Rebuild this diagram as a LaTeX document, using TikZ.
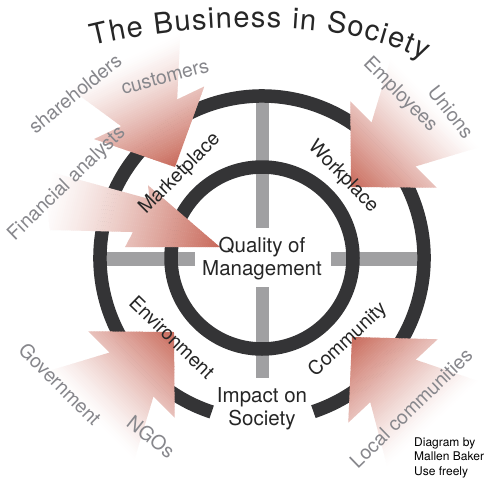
\documentclass[tikz,border=0pt]{standalone}
\usepackage{fontspec}
\setmainfont{TeX Gyre Heros}
\usetikzlibrary{decorations.text,calc}
\definecolor{ringc}{RGB}{52,52,54}
\definecolor{barc}{RGB}{160,160,162}
\definecolor{darktext}{RGB}{38,38,38}
\definecolor{graytext}{RGB}{135,135,140}
\definecolor{ared}{RGB}{200,105,90}
\newcommand{\titlefnt}{\fontsize{29}{33}\selectfont\color{darktext}}
% fading fill along local x: red at x=0, white at x=#1
\newcommand{\fadefill}[1]{%
  \foreach \d in {0,2,...,#1} {%
    \pgfmathsetmacro{\pct}{100*(max(0.0005,1-(\d+1)/#1))^1.25}%
    \fill[ared!\pct] (\d,-90) rectangle (\d+2.4,90);
  }}
\newcommand{\redarrow}[3]{%
  \begin{scope}[shift={(#1,#2)}, rotate=#3]
    \clip (0,0) -- (60,-61) -- (60,-31) -- (118,-62) -- (118,62) -- (60,31) -- (60,61) -- cycle;
    \fadefill{118}
  \end{scope}}
\tikzset{
  ring/.style={draw=ringc, line width=13.5pt},
  bar/.style={fill=barc},
  lbl/.style={text=darktext, font=\fontsize{19.5}{23}\selectfont, inner sep=0pt},
  glbl/.style={text=graytext, font=\fontsize{19.5}{23}\selectfont, inner sep=0pt},
  ctr/.style={text=darktext, font=\fontsize{20.5}{23}\selectfont, inner sep=0pt, anchor=base},
  credit/.style={text=black, font=\fontsize{12}{14}\selectfont, inner sep=0pt, anchor=base west},
}
\begin{document}
\begin{tikzpicture}[x=1pt, y=-1pt]
\useasboundingbox (0,0) rectangle (492,485);
\fill[white] (0,0) rectangle (492,485);

% gray cross bars
\fill[bar] (255.5,98) rectangle (268.5,228);
\fill[bar] (255.5,287) rectangle (268.5,378);
\fill[bar] (100,252) rectangle (195,265.5);
\fill[bar] (331,252) rectangle (424,265.5);

% rings
\coordinate (c) at (262,258);
\draw[ring] (c) circle[radius=91];
\draw[ring] ($(c)+(71.5:162)$) arc[start angle=71.5, end angle=-251.9, radius=162];

% arrows
\redarrow{175}{167}{115.5}
\redarrow{351}{187}{45}
\redarrow{174}{332}{225}
\redarrow{352}{337}{-47}
\begin{scope}[shift={(220,247)}, rotate=165.7]
  \clip (0,0) -- (92,-23.5) -- (88,-7) -- (169,-25.5) -- (190,31) -- (80,29) -- (85,42) -- cycle;
  \fadefill{182}
\end{scope}

% title
\path[decorate, decoration={text along path, text={|\titlefnt|The Business in Society}, text align={fit to path}}]
  (93,46) .. controls (180,24) and (340,14) .. (424,60);

% centre texts
\node[ctr] (q1) at (262,252) {Quality of};
\node[ctr] (q2) at (262,275) {Management};
\node[ctr] (i1) at (262,402) {Impact on};
\node[ctr] (i2) at (262,425) {Society};

% ring labels
\node[lbl, rotate=45] (mk) at (180,174) {Marketplace};
\node[lbl, rotate=-46] (wp) at (343,177) {Workplace};
\node[lbl, rotate=-44] (env) at (172,337) {Environment};
\node[lbl, rotate=43] (com) at (348,340) {Community};

% stakeholder labels
\node[glbl, rotate=39] (sh) at (75,93.5) {shareholders};
\node[glbl, rotate=15] (cu) at (165,77) {customers};
\node[glbl, rotate=44] (fa) at (67,184) {Financial analysts};
\node[glbl, rotate=-45] (em) at (400,95) {Employees};
\node[glbl, rotate=-52] (un) at (451,112) {Unions};
\node[glbl, rotate=-45] (gov) at (60,384) {Government};
\node[glbl, rotate=-38] (ngo) at (151,437) {NGOs};
\node[glbl, rotate=44] (lc) at (411,408) {Local communities};

% credit
\node[credit] (cr1) at (414,446) {Diagram by};
\node[credit] (cr2) at (414,460.5) {Mallen Baker};
\node[credit] (cr3) at (414,475) {Use freely};
\end{tikzpicture}
\end{document}
